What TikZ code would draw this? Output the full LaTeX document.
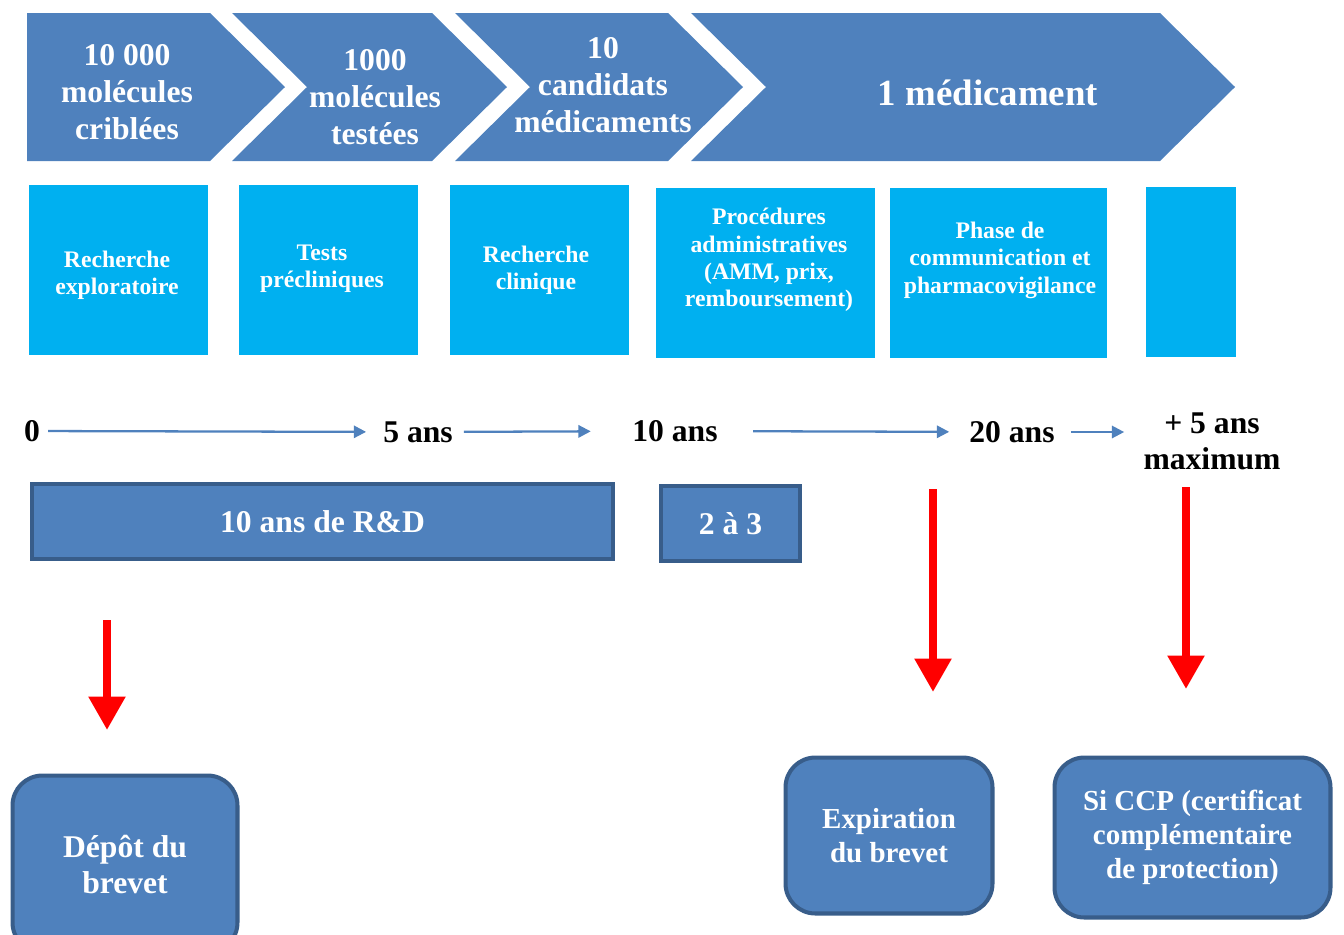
\documentclass[tikz,border=0pt]{standalone}
\usepackage{fontspec}
\setmainfont{Liberation Serif}
\usetikzlibrary{arrows.meta}
\definecolor{chevblue}{HTML}{4F81BD}
\definecolor{boxcyan}{HTML}{00B0F0}
\definecolor{edgeblue}{HTML}{385D8A}
\definecolor{arrowred}{HTML}{FF0000}
\begin{document}
\begin{tikzpicture}[line join=miter,x=0.02cm,y=-0.02cm,
  chevtext/.style={text=white,align=center,font=\bfseries\fontsize{18}{21}\selectfont},
  phase/.style={fill=boxcyan,inner sep=0pt},
  phasetext/.style={text=white,align=center,font=\bfseries\fontsize{13.5}{15.6}\selectfont},
  year/.style={inner sep=0pt,align=center,font=\bfseries\fontsize{18}{20.5}\selectfont},
  tline/.style={chevblue,line width=1.3pt,-{Triangle[length=7pt,width=7pt]}},
  span/.style={fill=chevblue,draw=edgeblue,line width=2pt,text=white,font=\bfseries\fontsize{18}{21}\selectfont},
  patent/.style={fill=chevblue,draw=edgeblue,line width=2.3pt,rounded corners=17pt,text=white,align=center,font=\bfseries\fontsize{16.5}{19.3}\selectfont},
  redarrow/.style={arrowred,line width=4.5pt,-{Triangle[length=19pt,width=20pt]}}]
		\clip (0,0) rectangle (1344,934);
		% chevrons
		\fill[chevblue] (27,13) -- (210,13) -- (285,87) -- (210,161) -- (27,161) -- cycle;
		\fill[chevblue] (232,13) -- (432,13) -- (507,87) -- (432,161) -- (232,161) -- (307,87) -- cycle;
		\fill[chevblue] (455,13) -- (668,13) -- (743,87) -- (668,161) -- (455,161) -- (530,87) -- cycle;
		\fill[chevblue] (691,13) -- (1160,13) -- (1235,87) -- (1160,161) -- (691,161) -- (766,87) -- cycle;
		\node[chevtext] (c1) at (127,92) {10 000\\molécules\\criblées};
		\node[chevtext] (c2) at (375,97) {1000\\molécules\\testées};
		\node[chevtext] (c3) at (603,85) {10\\candidats\\médicaments};
		\node[chevtext,font=\bfseries\fontsize{21}{24}\selectfont] (c4) at (988,93) {1 médicament};
		% phases
		\node[phase,minimum width=3.58cm,minimum height=3.4cm] (p1) at (118.5,270) {};
		\node[phase,minimum width=3.58cm,minimum height=3.4cm] (p2) at (328.5,270) {};
		\node[phase,minimum width=3.58cm,minimum height=3.4cm] (p3) at (539.5,270) {};
		\node[phase,minimum width=4.38cm,minimum height=3.4cm] (p4) at (765.5,273) {};
		\node[phase,minimum width=4.34cm,minimum height=3.4cm] (p5) at (998.5,273) {};
		\node[phase,minimum width=1.8cm,minimum height=3.4cm] (p6) at (1191,272) {};
		\node[phasetext] (pt1) at (117,275) {Recherche\\exploratoire};
		\node[phasetext] (pt2) at (322,269) {Tests\\précliniques};
		\node[phasetext] (pt3) at (536,270) {Recherche\\clinique};
		\node[phasetext] (pt4) at (769,260) {Procédures\\administratives\\(AMM, prix,\\remboursement)};
		\node[phasetext] (pt5) at (1000,260) {Phase de\\communication et\\pharmacovigilance};
		% time line
		\node[year] (y0) at (32,431) {0};
		\node[year] (y5) at (418,432) {5 ans};
		\node[year] (y10) at (675,431) {10 ans};
		\node[year] (y20) at (1012,432) {20 ans};
		\node[year] (ymax) at (1212,441) {+ 5 ans\\maximum};
		\draw[tline,shorten <=4.5pt,shorten >=9.6pt] (y0) -- (y5);
		\draw[tline,shorten <=6.2pt,shorten >=23.5pt] (y5) -- (y10);
		\draw[tline,shorten <=20pt,shorten >=11.3pt] (y10) -- (y20);
		\draw[tline,shorten <=9pt,shorten >=10.8pt] (y20) -- (y20 -| ymax.west);
		% durations
		\node[span,minimum width=11.62cm,minimum height=1.5cm] (rd) at (322.5,521.5) {10 ans de R\&D};
		\node[span,minimum width=2.78cm,minimum height=1.5cm] (amm) at (730.5,523.5) {2 à 3};
		% patent
		\coordinate (d0) at (107,620);
		\coordinate (d1) at (107,730);
		\coordinate (e0) at (933,489);
		\coordinate (e1) at (933,692);
		\coordinate (s0) at (1186,487);
		\coordinate (s1) at (1186,689);
		\draw[redarrow] (d0) -- (d1);
		\draw[redarrow] (e0) -- (e1);
		\draw[redarrow] (s0) -- (s1);
		\node[patent,minimum width=4.5cm,minimum height=3.54cm,font=\bfseries\fontsize{18}{20.5}\selectfont] (dep) at (125,864) {Dépôt du\\brevet};
		\node[patent,minimum width=4.14cm,minimum height=3.12cm] (exp) at (889,835.5) {Expiration\\du brevet};
		\node[patent,minimum width=5.52cm,minimum height=3.2cm] (ccp) at (1192.5,837.5) {Si CCP (certificat\\complémentaire\\de protection)};
\end{tikzpicture}
\end{document}
